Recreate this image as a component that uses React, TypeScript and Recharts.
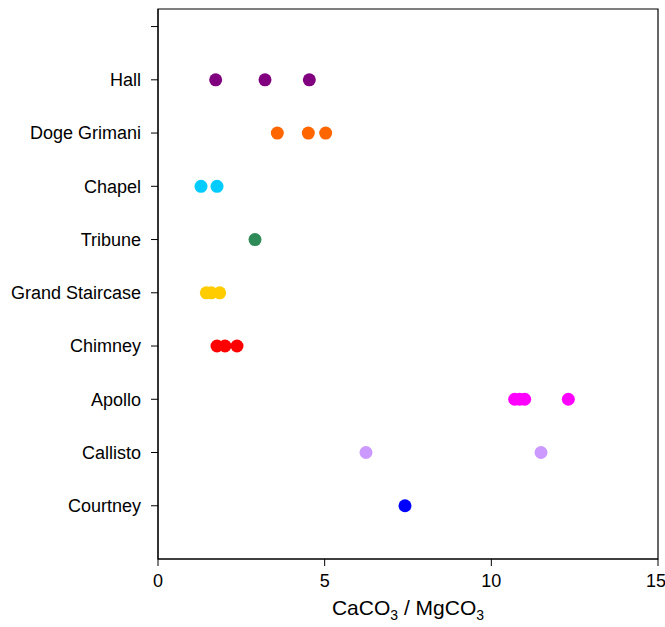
import { ScatterChart, Scatter, XAxis, YAxis, Label, ReferenceArea } from 'recharts';

// sites listed bottom to top, as they sit on the y axis
const SITES = [
  'Courtney',
  'Callisto',
  'Apollo',
  'Chimney',
  'Grand Staircase',
  'Tribune',
  'Chapel',
  'Doge Grimani',
  'Hall',
];

const COLORS = [
  '#0000FF',
  '#CC99FF',
  '#FF00FF',
  '#FF0000',
  '#FFCC00',
  '#2E8B57',
  '#00CCFF',
  '#FF6600',
  '#800080',
];

// CaCO3 / MgCO3 ratios per site
const courtney = [7.41];
const callisto = [6.24, 11.49];
const apollo = [10.7, 10.85, 11.0, 12.31];
const chimney = [1.77, 2.01, 2.37];
const grandStaircase = [1.45, 1.6, 1.85];
const tribune = [2.91];
const chapel = [1.29, 1.77];
const dogeGrimani = [3.58, 4.51, 5.03];
const hall = [1.73, 3.21, 4.54];

const RATIOS = [
  courtney,
  callisto,
  apollo,
  chimney,
  grandStaircase,
  tribune,
  chapel,
  dogeGrimani,
  hall,
];

const X_TICKS = [0, 5, 10, 15];
const Y_TICKS = [1, 2, 3, 4, 5, 6, 7, 8, 9, 10];
const Y_MAX = 10.33;

const FONT = '"Liberation Sans", Arial, sans-serif';

function XTitle(props: any) {
  const vb = props.viewBox || {};
  const cx = vb.x + vb.width / 2;
  const y = vb.y + 56;
  return (
    <text
      x={cx}
      y={y}
      textAnchor="middle"
      fontSize={21}
      fontFamily={FONT}
      fill="#000"
    >
      CaCO
      <tspan fontSize={14} dy={5}>3</tspan>
      <tspan dy={-5}> / MgCO</tspan>
      <tspan fontSize={14} dy={5}>3</tspan>
    </text>
  );
}

export default function App() {
  return (
    <div style={{ position: 'absolute', left: 0, top: 0 }}>
      <ScatterChart
        width={665}
        height={627}
        margin={{ top: 9, right: 7, bottom: 0, left: 0 }}
      >
        <XAxis
          type="number"
          dataKey="x"
          domain={[0, 15]}
          ticks={X_TICKS}
          height={68}
          tickSize={7}
          tickMargin={8}
          stroke="#000"
          tick={{ fontSize: 18, fill: '#000', fontFamily: FONT }}
        >
          <Label content={XTitle} />
        </XAxis>
        <YAxis
          type="number"
          dataKey="y"
          domain={[0, Y_MAX]}
          ticks={Y_TICKS}
          width={158}
          tickSize={7}
          tickMargin={10}
          stroke="#000"
          tickFormatter={(v: number) => SITES[v - 1] || ''}
          tick={{ fontSize: 18, fill: '#000', fontFamily: FONT }}
        />
        <ReferenceArea
          x1={0}
          x2={15}
          y1={0}
          y2={Y_MAX}
          fill="none"
          stroke="#000"
          strokeWidth={1.2}
        />
        {SITES.map((site, i) => (
          <Scatter
            key={site}
            name={site}
            data={RATIOS[i].map((v) => ({ x: v, y: i + 1 }))}
            fill={COLORS[i]}
            isAnimationActive={false}
            shape={(p: any) => (
              <circle cx={p.cx} cy={p.cy} r={6.5} fill={COLORS[i]} />
            )}
          />
        ))}
      </ScatterChart>
    </div>
  );
}
